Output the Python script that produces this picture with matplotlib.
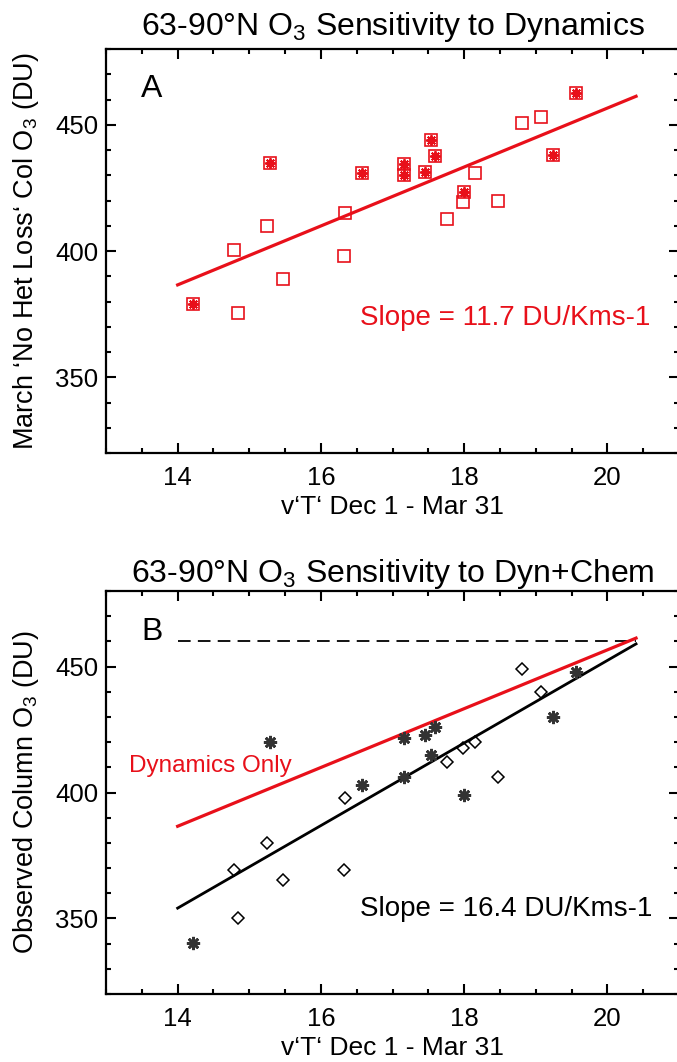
import numpy as np
import matplotlib
matplotlib.use("Agg")
import matplotlib.pyplot as plt
from matplotlib.ticker import MultipleLocator

plt.rcParams['font.family'] = ['Liberation Sans', 'DejaVu Sans']
plt.rcParams['mathtext.fontset'] = 'custom'
plt.rcParams['mathtext.rm'] = 'Liberation Sans'
plt.rcParams['mathtext.it'] = 'Liberation Sans:italic'

RED = '#e8101a'

# v'T' (Dec 1 - Mar 31) for the two groups of years
x_star = [14.21, 15.29, 16.57, 17.16, 17.16, 17.45, 17.54, 17.59, 18.00, 19.24, 19.56]
x_open = [14.78, 14.84, 15.25, 15.47, 16.33, 16.32, 17.76, 17.98, 18.15, 18.47, 18.81, 19.07]

# Panel A: March 'no het loss' column O3 (DU)
a_star = [379.1, 434.7, 430.9, 434.5, 430.0, 431.4, 443.8, 437.6, 423.3, 437.9, 462.5]
a_open = [400.3, 375.3, 410.1, 388.8, 415.1, 398.0, 412.6, 419.3, 430.9, 419.9, 450.8, 453.2]

# Panel B: observed column O3 (DU)
b_star = [340.2, 419.9, 403.1, 421.8, 406.0, 423.0, 415.0, 426.1, 399.0, 429.8, 448.0]
b_open = [369.1, 350.1, 380.1, 365.1, 398.0, 369.1, 412.0, 417.8, 420.0, 406.0, 449.0, 439.9]

# fit lines (end points)
fit_x = [14.0, 20.4]
dyn_y = [386.6, 461.3]      # slope 11.7
chem_y = [354.1, 459.0]     # slope 16.4
ref_level = 460.0

TITLE_A = "63-90°N O$_\\mathrm{3}$ Sensitivity to Dynamics"
TITLE_B = "63-90°N O$_\\mathrm{3}$ Sensitivity to Dyn+Chem"
XLABEL = "v\u2018T\u2018 Dec 1 - Mar 31"
FS = 18.5


def style_axes(ax):
    ax.set_xlim(13, 21)
    ax.set_ylim(320, 480)
    ax.set_xticks([14, 16, 18, 20])
    ax.set_yticks([350, 400, 450])
    ax.xaxis.set_minor_locator(MultipleLocator(0.5))
    ax.yaxis.set_minor_locator(MultipleLocator(10))
    ax.tick_params(which='both', direction='in', top=True, right=True,
                   width=1.5, labelsize=FS)
    ax.tick_params(which='major', length=7)
    ax.tick_params(which='minor', length=3.5)
    ax.tick_params(axis='x', which='major', pad=9)
    ax.tick_params(axis='y', which='major', pad=5.5)
    for sp in ax.spines.values():
        sp.set_linewidth(1.6)
    ax.set_xlabel(XLABEL, fontsize=19, labelpad=4)


fig = plt.figure(figsize=(6.77, 10.62), dpi=100)
ax1 = fig.add_axes([0.1566, 0.5734, 0.8464, 0.3804])
ax2 = fig.add_axes([0.1566, 0.0640, 0.8464, 0.3795])

# --- panel A ---
ax1.plot(fit_x, dyn_y, color=RED, lw=2.3)
ax1.plot(x_open, a_open, ls='none', marker='s', ms=8, mfc='none',
         mec=RED, mew=1.2)
ax1.plot(x_star, a_star, ls='none', marker='s', ms=8, mfc='none',
         mec=RED, mew=1.2)
ax1.plot(x_star, a_star, ls='none', marker=(8, 2, 0), ms=7.5, mec=RED, mew=1.4)
ax1.text(13.64, 464, "A", fontsize=23, ha='center', va='center')
ax1.text(16.54, 373.4, "Slope = 11.7 DU/Kms-1", color=RED, fontsize=20,
         ha='left', va='center')
ax1.set_title(TITLE_A, fontsize=23, pad=10)
ax1.set_ylabel("March \u2018No Het Loss\u2018 Col O$_\\mathrm{3}$ (DU)",
               fontsize=19.5, labelpad=10.5)
style_axes(ax1)

# --- panel B ---
ax2.plot([fit_x[0], fit_x[1]], [ref_level, ref_level], color='black',
         lw=1.3, ls=(0, (7, 4)))
ax2.plot(fit_x, dyn_y, color=RED, lw=2.3)
ax2.plot(fit_x, chem_y, color='black', lw=2.0)
ax2.plot(x_open, b_open, ls='none', marker='D', ms=6, mfc='none',
         mec='black', mew=1.1)
ax2.plot(x_star, b_star, ls='none', marker=(8, 2, 0), ms=9.5, mec='#333333',
         mew=1.9)
ax2.text(13.64, 463.8, "B", fontsize=23, ha='center', va='center')
ax2.text(13.32, 410.7, "Dynamics Only", color=RED, fontsize=17.5,
         ha='left', va='center')
ax2.text(16.54, 353.7, "Slope = 16.4 DU/Kms-1", color='black', fontsize=20,
         ha='left', va='center')
ax2.set_title(TITLE_B, fontsize=23, pad=3.5)
ax2.set_ylabel("Observed Column O$_\\mathrm{3}$ (DU)", fontsize=19.5,
               labelpad=10.5)
style_axes(ax2)

fig.savefig("out.png", dpi=100)
